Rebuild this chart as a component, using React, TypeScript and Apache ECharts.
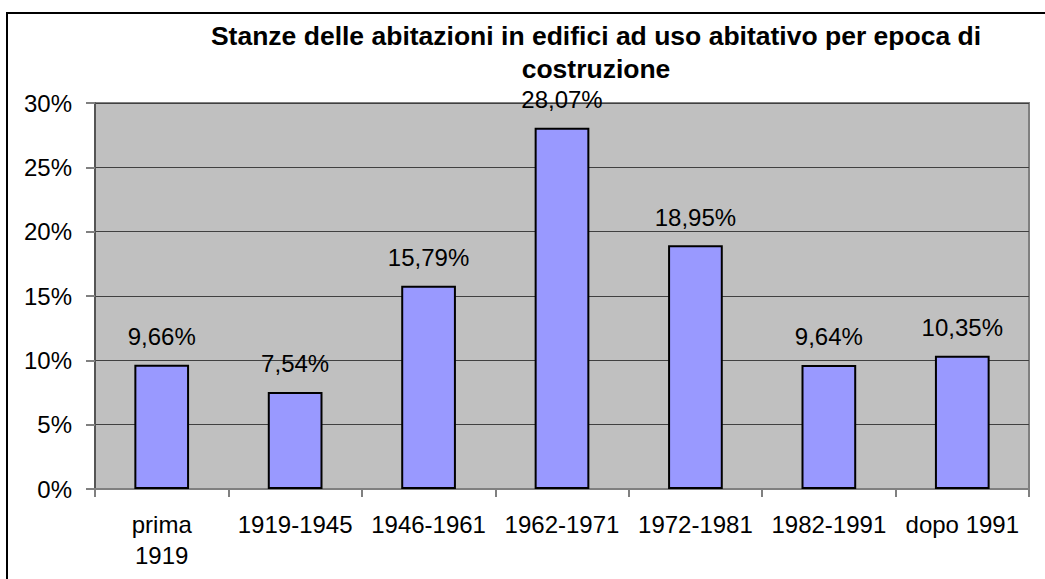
import React, { useEffect, useRef } from "react";
import * as echarts from "echarts";

const titleText = "Stanze delle abitazioni in edifici ad uso abitativo per epoca di\ncostruzione";
const categories = ["prima\n1919", "1919-1945", "1946-1961", "1962-1971", "1972-1981", "1982-1991", "dopo 1991"];
const values = [9.66, 7.54, 15.79, 28.07, 18.95, 9.64, 10.35];
const yMin = 0;
const yMax = 30;
const yStep = 5;

const FONT = "'Liberation Sans', Arial, sans-serif";

export default function App() {
  const ref = useRef<HTMLDivElement>(null);
  useEffect(() => {
    document.body.style.margin = "0";
    const chart = echarts.init(ref.current!, null, { renderer: "svg" });
    chart.setOption({
      animation: false,
      backgroundColor: "#ffffff",
      textStyle: { fontFamily: FONT },
      title: {
        text: titleText,
        left: 591,
        top: 14,
        textAlign: "center",
        textStyle: { fontFamily: FONT, fontSize: 26.5, fontWeight: "bold", color: "#000", lineHeight: 33 },
      },
      graphic: [
        {
          type: "rect",
          shape: { x: 7, y: 13, width: 1200, height: 800 },
          style: { fill: "none", stroke: "#000", lineWidth: 2 },
          silent: true,
          z: 100,
        },
      ],
      grid: {
        left: 95,
        right: 16,
        top: 103,
        bottom: 90,
        show: true,
        backgroundColor: "#C0C0C0",
        borderColor: "#808080",
        borderWidth: 2,
      },
      xAxis: {
        type: "category",
        data: categories,
        axisLine: { show: true, lineStyle: { color: "#808080", width: 2 } },
        axisTick: { show: true, length: 8, lineStyle: { color: "#808080", width: 2 } },
        axisLabel: { color: "#000", fontSize: 24, fontFamily: FONT, margin: 20, lineHeight: 31, interval: 0 },
      },
      yAxis: {
        type: "value",
        min: yMin,
        max: yMax,
        interval: yStep,
        axisLine: { show: true, lineStyle: { color: "#555", width: 2 } },
        axisTick: { show: true, length: 9, lineStyle: { color: "#808080", width: 2 } },
        axisLabel: { color: "#000", fontSize: 24, fontFamily: FONT, margin: 23, formatter: "{value}%" },
        splitLine: { show: true, lineStyle: { color: "#404040", width: 1 } },
      },
      series: [
        {
          type: "bar",
          data: values,
          barWidth: "41%",
          itemStyle: { color: "#9999FF", borderColor: "#000", borderWidth: 2 },
          label: {
            show: true,
            position: "top",
            distance: 16,
            color: "#000",
            fontSize: 24,
            fontFamily: FONT,
            formatter: (p: any) => p.value.toFixed(2).replace(".", ",") + "%",
          },
        },
      ],
    });
    return () => chart.dispose();
  }, []);
  return <div ref={ref} style={{ width: 1045, height: 579 }} />;
}
